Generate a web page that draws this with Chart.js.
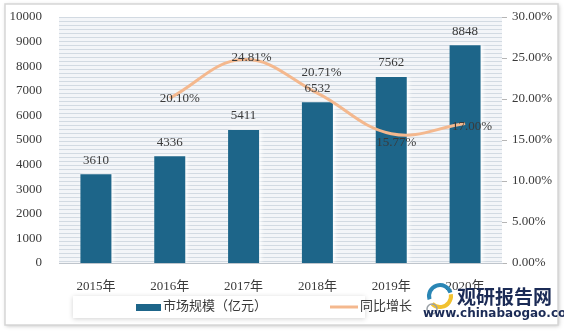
<!DOCTYPE html>
<html>
<head>
<meta charset="utf-8">
<script src="https://cdn.jsdelivr.net/npm/chart.js@4/dist/chart.umd.min.js"></script>
<style>
  body { margin: 0; background: #fff; }
  canvas { display: block; }
</style>
</head>
<body>
<canvas id="marketChart" width="564" height="331"></canvas>
<script>
const years = ['2015年', '2016年', '2017年', '2018年', '2019年', '2020年'];
const marketSize = [3610, 4336, 5411, 6532, 7562, 8848]; // 亿元
const growthRate = [null, 0.2010, 0.2481, 0.2071, 0.1577, 0.1700];
const seriesNames = ['市场规模（亿元）', '同比增长'];

// where each growth label sits relative to its point (px)
const growthLabelShift = [null, [10, 0], [8, -2], [4, -21], [5, 9], [7, 3]];

const barColor = '#1d6589';
const lineColor = '#f4b88e';
const textColor = '#3a3a3a';
const serif = "'Liberation Serif', 'Noto Sans CJK SC', serif";

// outer frame
const framePlugin = {
    id: 'frame',
    beforeDraw(chart) {
        const c = chart.ctx;
        c.save();
        c.fillStyle = '#ffffff';
        c.fillRect(0, 0, chart.width, chart.height);
        c.shadowColor = 'rgba(0,0,0,0.25)';
        c.shadowBlur = 4;
        c.shadowOffsetX = 1;
        c.shadowOffsetY = 1;
        c.fillStyle = '#ffffff';
        c.fillRect(5, 4, 553, 321);
        c.shadowColor = 'transparent';
        c.strokeStyle = '#d6d6d6';
        c.lineWidth = 1.5;
        c.strokeRect(5, 4, 553, 321);
        c.restore();
    }
};

// striped plot background, soft glow on the bars
const stripesPlugin = {
    id: 'stripes',
    beforeDatasetsDraw(chart) {
        const { ctx, chartArea: a } = chart;
        ctx.save();
        ctx.fillStyle = '#f3f5f8';
        ctx.fillRect(a.left, a.top, a.right - a.left, a.bottom - a.top);
        ctx.fillStyle = '#d2dae2';
        for (let y = a.top; y < a.bottom; y += 4) {
            ctx.fillRect(a.left, Math.round(y), a.right - a.left, 1);
        }
        ctx.restore();
    },
    beforeDatasetDraw(chart, args) {
        if (args.index === 0) {
            const c = chart.ctx;
            c.save();
            c.shadowColor = 'rgba(255,255,255,0.95)';
            c.shadowBlur = 4;
            c.shadowOffsetX = 2;
        }
    },
    afterDatasetDraw(chart, args) {
        if (args.index === 0) chart.ctx.restore();
    }
};

// value labels on bars and line points
const labelsPlugin = {
    id: 'valueLabels',
    afterDatasetsDraw(chart) {
        const c = chart.ctx;
        c.save();
        c.font = '13px ' + serif;
        c.fillStyle = textColor;
        c.textAlign = 'center';
        c.textBaseline = 'middle';
        chart.getDatasetMeta(0).data.forEach((bar, i) => {
            c.fillText(String(marketSize[i]), bar.x, bar.y - 14);
        });
        chart.getDatasetMeta(1).data.forEach((pt, i) => {
            if (growthRate[i] == null) return;
            const s = growthLabelShift[i];
            c.fillText((growthRate[i] * 100).toFixed(2) + '%', pt.x + s[0], pt.y + s[1]);
        });
        c.restore();
    }
};

// legend box and watermark
const legendPlugin = {
    id: 'legendBox',
    afterDraw(chart) {
        const c = chart.ctx;
        c.save();
        c.shadowColor = 'rgba(0,0,0,0.18)';
        c.shadowBlur = 5;
        c.shadowOffsetY = 1;
        c.fillStyle = '#ffffff';
        c.fillRect(73, 296, 292, 22);
        c.shadowColor = 'transparent';

        c.font = '13px ' + serif;
        c.textBaseline = 'middle';
        c.textAlign = 'left';
        const ds = chart.data.datasets;
        c.fillStyle = ds[0].backgroundColor;
        c.fillRect(136, 304, 25, 7);
        c.fillStyle = textColor;
        c.fillText(ds[0].label, 163, 307);

        c.strokeStyle = ds[1].borderColor;
        c.lineWidth = 3;
        c.beginPath();
        c.moveTo(330, 307);
        c.lineTo(358, 307);
        c.stroke();
        c.fillStyle = textColor;
        c.fillText(ds[1].label, 360, 307);

        // watermark
        c.lineWidth = 4;
        c.strokeStyle = '#2a86b5';
        c.beginPath();
        c.arc(440, 296, 11, Math.PI * 0.9, Math.PI * 1.9);
        c.stroke();
        c.strokeStyle = '#f2c230';
        c.beginPath();
        c.arc(440, 296, 11, Math.PI * 1.95, Math.PI * 0.75);
        c.stroke();
        c.strokeStyle = '#9aa0a6';
        c.lineWidth = 1.5;
        c.beginPath();
        c.arc(432, 309, 5, 0, Math.PI * 2);
        c.stroke();

        c.fillStyle = '#1b2b56';
        c.font = "bold 19px 'Noto Sans CJK SC', sans-serif";
        c.fillText('观研报告网', 457, 297);
        c.font = "bold 12px 'DejaVu Sans', sans-serif";
        c.fillText('www.chinabaogao.com', 423, 314);
        c.restore();
    }
};

const ctx = document.getElementById('marketChart').getContext('2d');

new Chart(ctx, {
    data: {
        labels: years,
        datasets: [
            {
                type: 'bar',
                label: seriesNames[0],
                data: marketSize,
                yAxisID: 'y',
                backgroundColor: barColor,
                barPercentage: 0.42,
                categoryPercentage: 1,
                order: 1
            },
            {
                type: 'line',
                label: seriesNames[1],
                data: growthRate,
                yAxisID: 'y1',
                borderColor: lineColor,
                borderWidth: 3,
                pointRadius: 0,
                tension: 0.4,
                order: 0
            }
        ]
    },
    options: {
        responsive: false,
        animation: false,
        layout: { padding: { top: 17, bottom: 38, left: 0, right: 0 } },
        plugins: {
            legend: { display: false },
            tooltip: { enabled: false }
        },
        scales: {
            x: {
                grid: { display: false },
                border: { color: '#bfc5cc' },
                ticks: { color: textColor, font: { family: serif, size: 13 }, padding: 8 },
                afterFit(s) { s.height = 30; }
            },
            y: {
                position: 'left',
                min: 0,
                max: 10000,
                grid: { display: false },
                border: { display: false },
                ticks: {
                    stepSize: 1000,
                    color: textColor,
                    font: { family: serif, size: 13 },
                    padding: 9,
                    callback: v => String(v)
                },
                afterFit(s) { s.width = 59; }
            },
            y1: {
                position: 'right',
                min: 0,
                max: 0.3,
                grid: { drawOnChartArea: false, color: '#b5b5b5', tickLength: 5 },
                border: { display: false },
                ticks: {
                    stepSize: 0.05,
                    color: textColor,
                    font: { family: serif, size: 13 },
                    padding: 5,
                    callback: v => (v * 100).toFixed(2) + '%'
                },
                afterFit(s) { s.width = 62; }
            }
        }
    },
    plugins: [framePlugin, stripesPlugin, labelsPlugin, legendPlugin]
});
</script>
</body>
</html>
